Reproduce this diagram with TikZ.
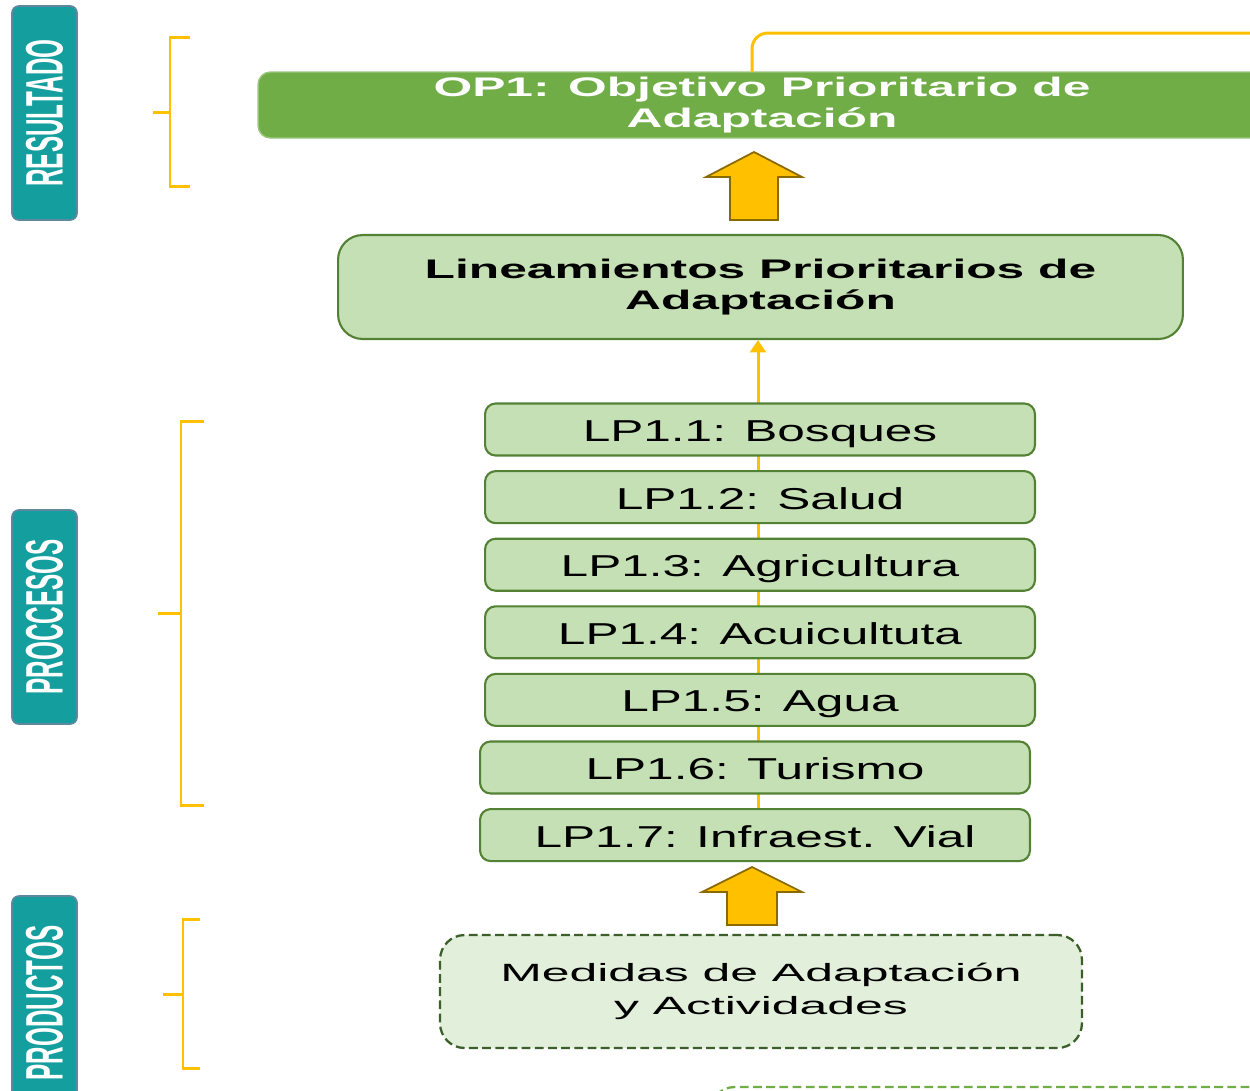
\documentclass[tikz,border=0pt]{standalone}
\usepackage{fontspec}
\setmainfont{Liberation Sans}
\newfontfamily\boxfont[FakeStretch=1.64]{Liberation Sans}
\newfontfamily\titlefont[FakeStretch=1.85]{Liberation Sans}
\newfontfamily\actfont[FakeStretch=2.0]{Liberation Sans}
\newfontfamily\tabfont[FakeStretch=0.46]{Liberation Sans}
\usetikzlibrary{positioning}
\usetikzlibrary{backgrounds}
\usetikzlibrary{arrows.meta}

\definecolor{tabteal}{HTML}{149E9E}
\definecolor{tabedge}{HTML}{5E88A0}
\definecolor{opgreen}{HTML}{70AD47}
\definecolor{lightgreen}{HTML}{C5E0B4}
\definecolor{palegreen}{HTML}{E2EFDA}
\definecolor{darkgreen}{HTML}{548235}
\definecolor{dashgreen}{HTML}{3B5E2B}
\definecolor{brace}{HTML}{FFC000}
\definecolor{arrowedge}{HTML}{8A6A00}

\begin{document}
\begin{tikzpicture}[x=0.02cm,y=-0.02cm,
	tab/.style={rectangle,rounded corners=4pt,fill=tabteal,draw=tabedge,line width=1pt,
		rotate=90,minimum width=4.28cm,minimum height=1.3cm,inner sep=0pt,
		text=white,font=\tabfont\bfseries\fontsize{30}{32}\selectfont},
	op node/.style={rectangle,rounded corners=7pt,fill=opgreen,draw=opgreen!70!white,line width=0.8pt,
		minimum width=20.16cm,minimum height=1.32cm,align=center,inner sep=0pt,
		text=white,font=\titlefont\bfseries\fontsize{15.3}{17.8}\selectfont},
	lin node/.style={rectangle,rounded corners=14pt,fill=lightgreen,draw=darkgreen,line width=1.2pt,
		minimum width=16.9cm,minimum height=2.08cm,align=center,inner sep=0pt,
		font=\titlefont\bfseries\fontsize{15.3}{17.5}\selectfont},
	lp node/.style={rectangle,rounded corners=6pt,fill=lightgreen,draw=darkgreen,line width=1.2pt,
		minimum width=11cm,minimum height=1.04cm,inner sep=0pt,text height=0.5cm,text depth=0.02cm,
		font=\boxfont\fontsize{17.2}{20}\selectfont},
	act node/.style={rectangle,rounded corners=14pt,fill=palegreen,draw=dashgreen,line width=1.3pt,
		dash pattern=on 5pt off 2.5pt,minimum width=12.84cm,minimum height=2.26cm,align=center,inner sep=0pt,
		font=\actfont\fontsize{14.2}{18.7}\selectfont},
	bracket/.style={draw=brace,line width=1.7pt},
	bigarrow/.style={fill=brace,draw=arrowedge,line width=1pt,line join=miter},
	flow/.style={draw=brace,line width=1.7pt,-{Triangle[length=7pt,width=9pt]}}]

	\path[use as bounding box,clip] (0,0) rectangle (1250,1090);

	% left tabs
	\node[tab] (resultado) at (44.5,113) {RESULTADO};
	\node[tab] (procesos) at (44.5,617) {PROCCESOS};
	\node[tab] (productos) at (44.5,1003) {PRODUCTOS};

	% brackets
	\draw[bracket] (190,37) -- (170,37) -- (170,186) -- (190,186);
	\draw[bracket] (153,112) -- (170,112);
	\draw[bracket] (204,421) -- (181,421) -- (181,805) -- (204,805);
	\draw[bracket] (158,613) -- (181,613);
	\draw[bracket] (200,919) -- (183,919) -- (183,1068) -- (200,1068);
	\draw[bracket] (163,994) -- (183,994);

	% boxes
	\node[op node] (op1) at (762,105) {OP1: Objetivo Prioritario de\\Adaptación};
	\node[lin node] (lin) at (760.5,287) {Lineamientos Prioritarios de\\Adaptación};
	\node[lp node] (lp11) at (760,429.5) {LP1.1: Bosques};
	\node[lp node] (lp12) [below=0.27cm of lp11] {LP1.2: Salud};
	\node[lp node] (lp13) [below=0.27cm of lp12] {LP1.3: Agricultura};
	\node[lp node] (lp14) [below=0.27cm of lp13] {LP1.4: Acuicultuta};
	\node[lp node] (lp15) [below=0.27cm of lp14] {LP1.5: Agua};
	\node[lp node] (lp16) [below=0.27cm of lp15,xshift=-0.1cm] {LP1.6: Turismo};
	\node[lp node] (lp17) [below=0.27cm of lp16] {LP1.7: Infraest. Vial};
	\node[act node] (act) at (761,991.5) {Medidas de Adaptación\\y Actividades};

	% thin connector behind the LP boxes
	\begin{scope}[on background layer]
		\draw[flow] (lp17.north -| 758,0) -- (lin.south -| 758,0);
	\end{scope}

	% top line leaving OP1
	\coordinate (opout) at (752,72);
	\coordinate (offright) at (1262,33);
	\draw[bracket,rounded corners=9pt] (opout) |- (offright);

	% block arrows
	\coordinate (arr1) at (754,220);
	\draw[bigarrow] (arr1) -- ++(24,0) -- ++(0,-43) -- ++(24,0) -- ++(-48,-25)
		-- ++(-48,25) -- ++(24,0) -- ++(0,43) -- cycle;
	\coordinate (arr2) at (752,925);
	\draw[bigarrow] (arr2) -- ++(25,0) -- ++(0,-33) -- ++(25,0) -- ++(-50,-25)
		-- ++(-50,25) -- ++(25,0) -- ++(0,33) -- cycle;

	% next box, cut by the frame
	\draw[draw=opgreen,line width=1.3pt,dash pattern=on 5pt off 2.5pt,rounded corners=14pt]
		(710,1160) -- (710,1087) -- (1300,1087);
\end{tikzpicture}
\end{document}
